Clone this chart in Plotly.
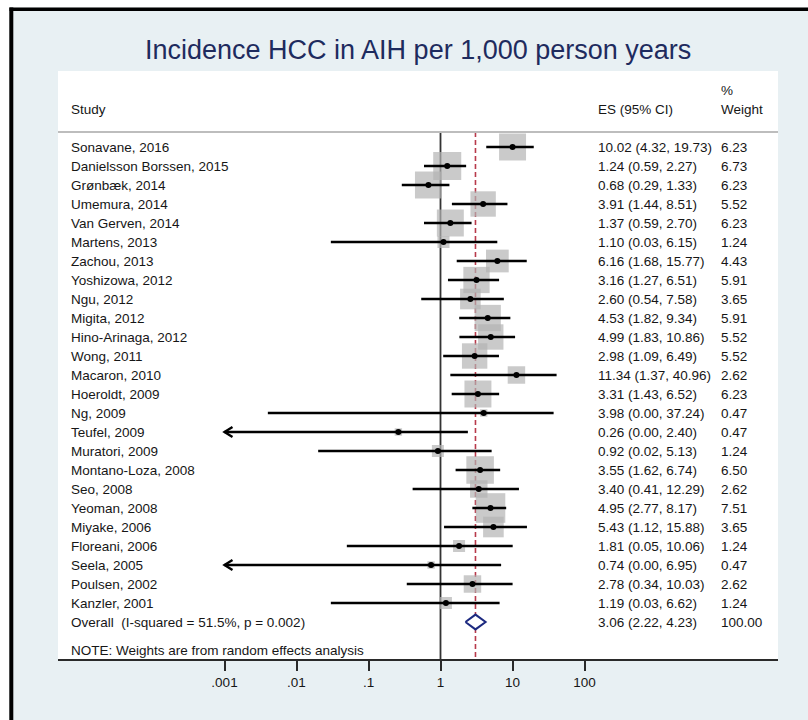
import plotly.graph_objects as go

# ---------------- data ----------------
studies = ["Sonavane, 2016", "Danielsson Borssen, 2015", "Grønbæk, 2014", "Umemura, 2014",
           "Van Gerven, 2014", "Martens, 2013", "Zachou, 2013", "Yoshizowa, 2012", "Ngu, 2012",
           "Migita, 2012", "Hino-Arinaga, 2012", "Wong, 2011", "Macaron, 2010", "Hoeroldt, 2009",
           "Ng, 2009", "Teufel, 2009", "Muratori, 2009", "Montano-Loza, 2008", "Seo, 2008",
           "Yeoman, 2008", "Miyake, 2006", "Floreani, 2006", "Seela, 2005", "Poulsen, 2002",
           "Kanzler, 2001"]
es = [10.02, 1.24, 0.68, 3.91, 1.37, 1.10, 6.16, 3.16, 2.60, 4.53, 4.99, 2.98, 11.34, 3.31,
      3.98, 0.26, 0.92, 3.55, 3.40, 4.95, 5.43, 1.81, 0.74, 2.78, 1.19]
ci_low = [4.32, 0.59, 0.29, 1.44, 0.59, 0.03, 1.68, 1.27, 0.54, 1.82, 1.83, 1.09, 1.37, 1.43,
          0.004, 0.0004, 0.02, 1.62, 0.41, 2.77, 1.12, 0.05, 0.0004, 0.34, 0.03]
ci_high = [19.73, 2.27, 1.33, 8.51, 2.70, 6.15, 15.77, 6.51, 7.58, 9.34, 10.86, 6.49, 40.96,
           6.52, 37.24, 2.40, 5.13, 6.74, 12.29, 8.17, 15.88, 10.06, 6.95, 10.03, 6.62]
weight = [6.23, 6.73, 6.23, 5.52, 6.23, 1.24, 4.43, 5.91, 3.65, 5.91, 5.52, 5.52, 2.62, 6.23,
          0.47, 0.47, 1.24, 6.50, 2.62, 7.51, 3.65, 1.24, 0.47, 2.62, 1.24]

overall_es = 3.06
overall_low = 2.22
overall_high = 4.23
overall_weight = 100.00
i_squared = 51.5
p_value = 0.002

tick_vals = [0.001, 0.01, 0.1, 1, 10, 100]
tick_text = [".001", ".01", ".1", "1", "10", "100"]

title_text = "Incidence HCC in AIH per 1,000 person years"
note_text = "NOTE: Weights are from random effects analysis"

# ---------------- style / layout constants ----------------
W, H = 808, 720
L, R, T, B = 58, 778, 71, 659          # plot panel in pixels
ROW0, ROWH = 147, 19                     # pixel centre of row 0, row height
AXIS_MIN = 0.001
X1_PX, DEC_PX = 440.5, 72.0              # pixel of x=1 and pixels per decade

FONT = "Liberation Sans, Arial, Helvetica, sans-serif"
TXT = "#161616"
BG = "#e8f0f3"
BOX = "#b3b3b3"
RED = "#b83a4b"
NAVY = "#1d2a80"
TITLE_C = "#1e2b5e"
FS = 13.5


def px_to_xpaper(px):
    return (px - L) / (R - L)


def py_to_row(py):
    return (py - ROW0) / ROWH


def py_to_ypaper(py):
    return (B - py) / (B - T)


x_range = [(L - X1_PX) / DEC_PX, (R - X1_PX) / DEC_PX]
y_range = [py_to_row(B), py_to_row(T)]

n = len(studies)
rows = list(range(n))
overall_row = n
header_row = py_to_row(132)

fig = go.Figure()

# weight boxes (area proportional to weight)
box_k = 10.8
fig.add_trace(go.Scatter(
    x=es, y=rows, mode="markers",
    marker=dict(symbol="square", size=[box_k * w ** 0.5 for w in weight], color=BOX,
                line=dict(width=0)),
    hoverinfo="skip", showlegend=False))

# confidence interval lines
cx, cy = [], []
for i in rows:
    cx += [max(ci_low[i], AXIS_MIN), ci_high[i], None]
    cy += [i, i, None]
fig.add_trace(go.Scatter(x=cx, y=cy, mode="lines", line=dict(color="black", width=2.4),
                         hoverinfo="skip", showlegend=False))

# point estimates
fig.add_trace(go.Scatter(x=es, y=rows, mode="markers",
                         marker=dict(symbol="circle", size=6, color="black"),
                         hoverinfo="skip", showlegend=False))

# overall diamond
dh = 0.39
fig.add_trace(go.Scatter(
    x=[overall_low, overall_es, overall_high, overall_es, overall_low],
    y=[overall_row, overall_row - dh, overall_row, overall_row + dh, overall_row],
    mode="lines", fill="toself", fillcolor="white",
    line=dict(color=NAVY, width=2), hoverinfo="skip", showlegend=False))

shapes = []
# arrows for truncated CIs
for i in rows:
    if ci_low[i] < AXIS_MIN:
        shapes.append(dict(type="path", xref="x", yref="y", xsizemode="pixel", ysizemode="pixel",
                           xanchor=AXIS_MIN, yanchor=i, path="M 8,5 L 0,0 L 8,-5",
                           line=dict(color="black", width=2.4), layer="above"))

# null line and overall line
shapes.append(dict(type="line", xref="x", yref="y", x0=1, x1=1, y0=header_row, y1=y_range[0],
                   line=dict(color="#333333", width=1.8), layer="below"))
shapes.append(dict(type="line", xref="x", yref="y", x0=overall_es, x1=overall_es,
                   y0=header_row, y1=y_range[0],
                   line=dict(color=RED, width=1.6, dash="5px,3px"), layer="below"))
# header separator
shapes.append(dict(type="line", xref="paper", yref="y", x0=0, x1=1, y0=header_row, y1=header_row,
                   line=dict(color="#bdbdbd", width=2), layer="above"))

# outer white margin and black frame (top / left)
shapes.append(dict(type="rect", xref="paper", yref="paper",
                   x0=px_to_xpaper(-20), x1=px_to_xpaper(9.5), y0=py_to_ypaper(740), y1=py_to_ypaper(-20),
                   fillcolor="white", line=dict(width=0), layer="above"))
shapes.append(dict(type="rect", xref="paper", yref="paper",
                   x0=px_to_xpaper(-20), x1=px_to_xpaper(830), y0=py_to_ypaper(7.5), y1=py_to_ypaper(-20),
                   fillcolor="white", line=dict(width=0), layer="above"))
shapes.append(dict(type="line", xref="paper", yref="paper",
                   x0=px_to_xpaper(11.3), x1=px_to_xpaper(11.3), y0=py_to_ypaper(7.5), y1=py_to_ypaper(740),
                   line=dict(color="black", width=4), layer="above"))
shapes.append(dict(type="line", xref="paper", yref="paper",
                   x0=px_to_xpaper(9.5), x1=px_to_xpaper(830), y0=py_to_ypaper(9.3), y1=py_to_ypaper(9.3),
                   line=dict(color="black", width=3.6), layer="above"))

annotations = []


def txt(x_px, row, s, size=FS, color=TXT):
    annotations.append(dict(x=px_to_xpaper(x_px), xref="paper", y=row, yref="y",
                            text=s, showarrow=False, xanchor="left", yanchor="middle",
                            font=dict(family=FONT, size=size, color=color)))


STUDY_X, ES_X, WT_X = 69, 596, 719

# headers
txt(STUDY_X, py_to_row(109.3), "Study")
txt(ES_X, py_to_row(109.3), "ES (95% CI)")
txt(WT_X, py_to_row(90), "%")
txt(WT_X, py_to_row(109.3), "Weight")

for i in rows:
    txt(STUDY_X, i, studies[i])
    txt(ES_X, i, f"{es[i]:.2f} ({ci_low[i]:.2f}, {ci_high[i]:.2f})")
    txt(WT_X, i, f"{weight[i]:.2f}")

txt(STUDY_X, overall_row, f"Overall\u00a0 (I-squared = {i_squared:.1f}%, p = {p_value:.3f})")
txt(ES_X, overall_row, f"{overall_es:.2f} ({overall_low:.2f}, {overall_high:.2f})")
txt(WT_X, overall_row, f"{overall_weight:.2f}")
txt(STUDY_X, py_to_row(650.5), note_text)

# title
annotations.append(dict(x=0.5, xref="paper", y=py_to_ypaper(50), yref="paper", text=title_text,
                        showarrow=False, xanchor="center", yanchor="middle",
                        font=dict(family=FONT, size=27, color=TITLE_C)))

fig.update_layout(
    width=W, height=H, autosize=False,
    margin=dict(l=L, r=W - R, t=T, b=H - B, pad=0),
    paper_bgcolor=BG, plot_bgcolor="white",
    showlegend=False,
    shapes=shapes, annotations=annotations,
    font=dict(family=FONT, size=FS, color=TXT),
    xaxis=dict(type="log", range=x_range, showgrid=False, zeroline=False,
               showline=True, linecolor="#2a2a2a", linewidth=2,
               ticks="outside", ticklen=10, tickwidth=2, tickcolor="#2a2a2a",
               tickvals=tick_vals, ticktext=tick_text,
               tickfont=dict(family=FONT, size=FS, color=TXT), fixedrange=True),
    yaxis=dict(range=y_range, visible=False, fixedrange=True),
)

fig.write_html("out.html")
